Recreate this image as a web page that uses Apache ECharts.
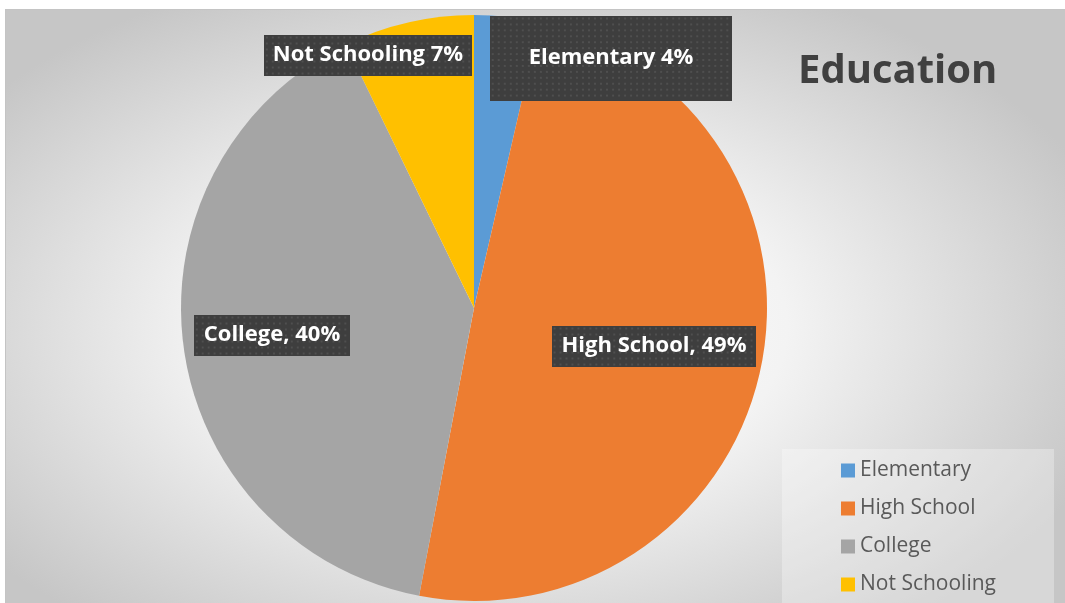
<!DOCTYPE html>
<html>
<head>
<meta charset="utf-8">
<script src="https://cdn.jsdelivr.net/npm/echarts@6/dist/echarts.min.js"></script>
<style>
  html, body { margin: 0; padding: 0; background: #ffffff; overflow: hidden; }
  #frame {
    position: absolute; left: 5px; top: 9px; width: 1070px; height: 610px;
    border-top: 1px solid #c4c4c4; border-left: 1px solid #c4c4c4;
    background: radial-gradient(ellipse 60% 62% at 46% 52%, #ffffff 0%, #f3f3f3 45%, #c6c6c6 100%);
  }
  #chart { position: absolute; left: 0; top: 0; width: 1065px; height: 603px; }
</style>
</head>
<body>
<div id="frame"></div>
<div id="chart"></div>
<script>
// Education breakdown (percent of respondents)
const categories = ['Elementary', 'High School', 'College', 'Not Schooling'];
const shares = [3.6, 49.4, 39.8, 7.2];
const labelSeparators = [' ', ', ', ', ', ' '];
const sliceColors = ['#5B9BD5', '#ED7D31', '#A5A5A5', '#FFC000'];

// where each callout box sits, its padding and its backdrop size
const labelSpots = [[611, 58], [654, 346], [272, 335], [368, 55]];
const labelPads = [[31, 39], [9, 10], [9, 10], [9, 9]];
const labelBoxes = [[242, 86], [206, 41], [158, 41], [210, 41]];

const FONT = '"Open Sans", Lato, sans-serif';

// dark dotted backdrop for the callouts
function dottedBackdrop(w, h) {
  const c = document.createElement('canvas');
  c.width = w; c.height = h;
  const g = c.getContext('2d');
  g.fillStyle = '#3e3e3e';
  g.fillRect(0, 0, w, h);
  g.fillStyle = '#4f4f4f';
  for (let y = 2; y < h; y += 6) {
    for (let x = 2; x < w; x += 6) {
      g.fillRect(x, y, 2, 2);
    }
  }
  return c;
}

const chart = echarts.init(document.getElementById('chart'), null, { renderer: 'canvas' });

const pieData = categories.map((name, i) => ({
  name: name,
  value: shares[i],
  itemStyle: { color: sliceColors[i] },
  label: {
    padding: labelPads[i],
    backgroundColor: { image: dottedBackdrop(labelBoxes[i][0], labelBoxes[i][1]) }
  }
}));

chart.setOption({
  backgroundColor: 'transparent',
  animation: false,
  title: {
    text: 'Education',
    left: 798,
    top: 52,
    padding: 0,
    textStyle: { fontFamily: FONT, fontWeight: 'bold', fontSize: 40, color: '#404040' }
  },
  legend: {
    orient: 'vertical',
    left: 841,
    top: 460,
    padding: 0,
    itemWidth: 14,
    itemHeight: 14,
    itemGap: 17,
    icon: 'rect',
    data: categories,
    textStyle: { fontFamily: FONT, fontSize: 21, lineHeight: 20, color: '#595959' }
  },
  graphic: [{
    type: 'rect',
    z: -1,
    shape: { x: 782, y: 449, width: 272, height: 160 },
    style: { fill: 'rgba(255,255,255,0.3)' }
  }],
  series: [{
    type: 'pie',
    center: [474, 308],
    radius: 293,
    startAngle: 90,
    clockwise: true,
    avoidLabelOverlap: false,
    itemStyle: { borderWidth: 0 },
    label: {
      show: true,
      formatter: p => p.name + labelSeparators[p.dataIndex] + Math.round(p.value) + '%',
      fontFamily: FONT,
      fontWeight: 'bold',
      fontSize: 22,
      lineHeight: 23,
      color: '#ffffff',
      shadowColor: 'rgba(0,0,0,0.45)',
      shadowBlur: 6,
      shadowOffsetX: 3,
      shadowOffsetY: 3
    },
    labelLine: { show: false },
    labelLayout: p => ({
      x: labelSpots[p.dataIndex][0],
      y: labelSpots[p.dataIndex][1],
      align: 'center',
      verticalAlign: 'middle'
    }),
    emphasis: { disabled: true },
    data: pieData
  }]
});
</script>
</body>
</html>
